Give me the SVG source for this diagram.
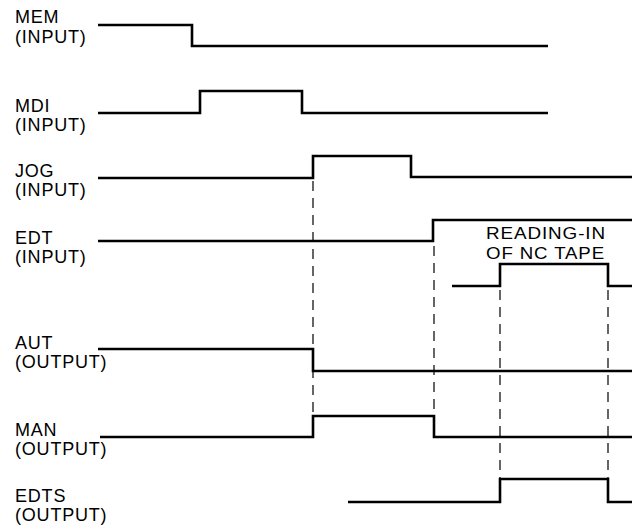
<svg xmlns="http://www.w3.org/2000/svg" width="632" height="525" viewBox="0 0 632 525">
<style>
.lbl{font-family:"Liberation Sans",Arial,sans-serif;font-size:18px;fill:#000;letter-spacing:0.8px}
.tape{font-size:17px}
.sig{fill:none;stroke:#000;stroke-width:2.6;stroke-linejoin:miter;stroke-linecap:butt}
.dash{fill:none;stroke:#000;stroke-width:1.2;stroke-dasharray:10 7}
</style>
<rect width="632" height="525" fill="#fff"/>
<g id="connectors">
<line class="dash" x1="313" y1="181" x2="313" y2="416"/>
<line class="dash" x1="434" y1="246" x2="434" y2="416"/>
<line class="dash" x1="500" y1="290" x2="500" y2="479"/>
<line class="dash" x1="608" y1="290" x2="608" y2="479"/>
</g>
<g id="mem">
<text class="lbl" x="15" y="23">MEM</text>
<text class="lbl" x="15" y="43">(INPUT)</text>
<path class="sig" d="M98 25 H192 V46 H548"/>
</g>
<g id="mdi">
<text class="lbl" x="15" y="112">MDI</text>
<text class="lbl" x="15" y="131">(INPUT)</text>
<path class="sig" d="M98 113 H200 V91 H302 V113 H548"/>
</g>
<g id="jog">
<text class="lbl" x="15" y="177">JOG</text>
<text class="lbl" x="15" y="196">(INPUT)</text>
<path class="sig" d="M98 178 H313 V156 H411 V177 H632"/>
</g>
<g id="edt">
<text class="lbl" x="15" y="244">EDT</text>
<text class="lbl" x="15" y="263">(INPUT)</text>
<path class="sig" d="M98 241 H433 V220 H632"/>
</g>
<g id="tape">
<text class="lbl tape" x="486" y="239" textLength="120" lengthAdjust="spacingAndGlyphs">READING-IN</text>
<text class="lbl tape" x="486" y="259" textLength="119" lengthAdjust="spacingAndGlyphs">OF NC TAPE</text>
<path class="sig" d="M452 286 H500 V264 H608 V286 H632"/>
</g>
<g id="aut">
<text class="lbl" x="15" y="349">AUT</text>
<text class="lbl" x="15" y="368">(OUTPUT)</text>
<path class="sig" d="M98 349 H313 V371 H632"/>
</g>
<g id="man">
<text class="lbl" x="15" y="436">MAN</text>
<text class="lbl" x="15" y="455">(OUTPUT)</text>
<path class="sig" d="M100 437 H313 V416 H434 V437 H632"/>
</g>
<g id="edts">
<text class="lbl" x="15" y="502">EDTS</text>
<text class="lbl" x="15" y="521">(OUTPUT)</text>
<path class="sig" d="M348 502 H500 V479 H608 V502 H632"/>
</g>
</svg>
